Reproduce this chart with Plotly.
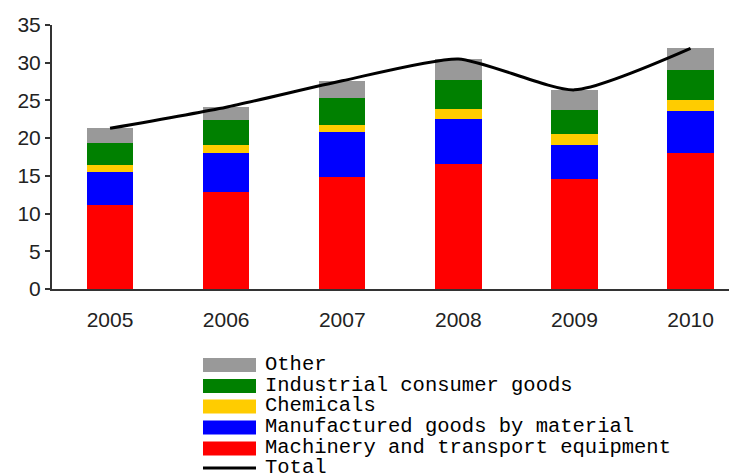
import plotly.graph_objects as go

# ---- data ----
years = ["2005", "2006", "2007", "2008", "2009", "2010"]
machinery = [11.2, 12.8, 14.9, 16.6, 14.6, 18.0]
manufactured = [4.3, 5.2, 5.9, 6.0, 4.5, 5.6]
chemicals = [1.0, 1.1, 0.9, 1.3, 1.4, 1.4]
industrial = [2.9, 3.3, 3.6, 3.8, 3.2, 4.0]
other = [1.9, 1.7, 2.3, 2.8, 2.7, 2.9]
total = [21.3, 24.1, 27.6, 30.5, 26.4, 31.9]

series_names = ["Machinery and transport equipment", "Manufactured goods by material",
                "Chemicals", "Industrial consumer goods", "Other"]
series_values = [machinery, manufactured, chemicals, industrial, other]
series_colors = ["#FF0000", "#0000FF", "#FFCC00", "#008000", "#999999"]
total_name = "Total"

# ---- layout geometry (page pixels; the page body adds an 8px offset) ----
OFF = 8
W, H = 737 - OFF, 475 - OFF
PLOT_L, PLOT_R, PLOT_T, PLOT_B = 52, 737, 25, 289
ML = PLOT_L - OFF
MR = (737 - OFF) - (PLOT_R - OFF)
MT = PLOT_T - OFF
MB = H - (PLOT_B - OFF)
plot_w = PLOT_R - PLOT_L
plot_h = PLOT_B - PLOT_T


def px_x(px):
    return (px - PLOT_L) / plot_w


def px_y(py):
    return (PLOT_B - py) / plot_h


fig = go.Figure()
for name, vals, col in zip(series_names, series_values, series_colors):
    fig.add_trace(go.Bar(x=years, y=vals, name=name, marker=dict(color=col, line=dict(width=0)),
                         width=0.4, showlegend=False))

fig.add_trace(go.Scatter(x=years, y=total, name=total_name, mode="lines",
                         line=dict(color="black", width=3, shape="spline", smoothing=0.6),
                         showlegend=False))

# ---- manual legend (tight line spacing as in the reference) ----
legend_entries = list(zip(series_names, series_colors))[::-1]
row_centers = [365, 386, 406.5, 427.5, 448.5]
sw_x0, sw_x1, txt_x = 203, 256, 263
shapes = []
annotations = []
legend_font = dict(family="Courier New, Liberation Mono, monospace", size=20.5, color="black")
for (name, col), cy in zip(legend_entries, row_centers):
    shapes.append(dict(type="rect", xref="paper", yref="paper",
                       x0=px_x(sw_x0), x1=px_x(sw_x1), y0=px_y(cy + 7), y1=px_y(cy - 7),
                       fillcolor=col, line=dict(width=0), layer="above"))
    annotations.append(dict(xref="paper", yref="paper", x=px_x(txt_x), y=px_y(cy - 1),
                            xanchor="left", yanchor="middle", text=name, showarrow=False,
                            font=legend_font))
cy = 468
shapes.append(dict(type="line", xref="paper", yref="paper",
                   x0=px_x(sw_x0), x1=px_x(sw_x1), y0=px_y(cy), y1=px_y(cy),
                   line=dict(color="black", width=3)))
annotations.append(dict(xref="paper", yref="paper", x=px_x(txt_x), y=px_y(cy - 1),
                        xanchor="left", yanchor="middle", text=total_name, showarrow=False,
                        font=legend_font))

fig.update_layout(
    width=W, height=H,
    margin=dict(l=ML, r=MR, t=MT, b=MB, pad=0),
    barmode="stack",
    plot_bgcolor="white", paper_bgcolor="white",
    font=dict(family="Arial, Liberation Sans, sans-serif", size=21, color="#222222"),
    shapes=shapes, annotations=annotations,
    showlegend=False,
)
fig.update_xaxes(type="category", range=[-0.5, 5.4], showgrid=False, showline=True,
                 linecolor="#333333", linewidth=2, ticks="", ticklabelstandoff=11,
                 tickfont=dict(size=21))
fig.update_yaxes(range=[0, 35], dtick=5, showgrid=False, showline=True, linecolor="#333333",
                 linewidth=2, ticks="outside", ticklen=5, tickcolor="#333333", tickwidth=2,
                 zeroline=False, tickfont=dict(size=21))

fig.write_html("out.html")
